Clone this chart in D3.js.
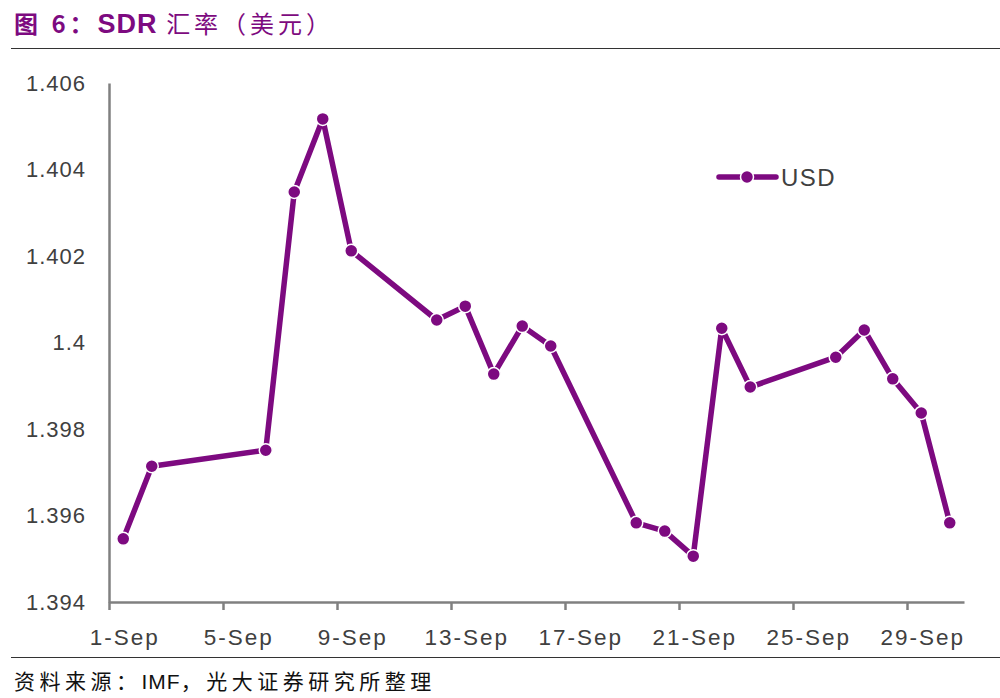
<!DOCTYPE html>
<meta charset="utf-8">
<style>
body { margin: 0; background: #fff; }
text { font-family: "Liberation Sans", Arial, sans-serif; }
.cjk { font-family: "Noto Sans CJK SC", sans-serif; }
</style>
<body>
<script src="https://cdnjs.cloudflare.com/ajax/libs/d3/7.8.5/d3.min.js"></script>
<script>
// trading days in September and the SDR rate (USD per SDR)
var days = [1, 2, 6, 7, 8, 9, 12, 13, 14, 15, 16, 19, 20, 21, 22, 23, 26, 27, 28, 29, 30];
var usd = [1.39546, 1.39714, 1.39751, 1.40348, 1.40517, 1.40212, 1.40052, 1.40084, 1.39927,
           1.40038, 1.39992, 1.39583, 1.39564, 1.39506, 1.40033, 1.39897, 1.39966, 1.40029,
           1.39916, 1.39837, 1.39583];
var tickDays = [1, 5, 9, 13, 17, 21, 25, 29];
var yTicks = [1.394, 1.396, 1.398, 1.4, 1.402, 1.404, 1.406];

var width = 1000, height = 698;
var purple = "#7d0a80";

var svg = d3.select("body").append("svg")
  .attr("width", width)
  .attr("height", height);

// title + rules
var title = svg.append("text").attr("class", "cjk")
  .attr("x", 14).attr("y", 33)
  .attr("font-size", 24)
  .attr("letter-spacing", 4)
  .attr("fill", purple);
title.append("tspan").attr("font-weight", "bold").text("图 6：");
title.append("tspan").attr("font-weight", "bold")
  .attr("font-family", "Liberation Sans, Arial, sans-serif").attr("font-size", 27)
  .attr("letter-spacing", 1).text("SDR ");
title.append("tspan").text("汇率（美元）");

svg.append("line").attr("x1", 11).attr("x2", 1000).attr("y1", 48.5).attr("y2", 48.5)
  .attr("stroke", "#333").attr("stroke-width", 1.2);
svg.append("line").attr("x1", 11).attr("x2", 1000).attr("y1", 657.5).attr("y2", 657.5)
  .attr("stroke", "#333").attr("stroke-width", 1.2);

var foot = svg.append("text").attr("class", "cjk")
  .attr("x", 14).attr("y", 689)
  .attr("font-size", 21).attr("letter-spacing", 4.5).attr("fill", "#111");
foot.append("tspan").text("资料来源：");
foot.append("tspan").attr("font-family", "Liberation Sans, Arial, sans-serif")
  .attr("letter-spacing", 1).text("IMF");
foot.append("tspan").text("，光大证券研究所整理");

// scales: each day takes a slot, point sits in the middle of it
var x = d3.scaleLinear().domain([0.5, 30.5]).range([109, 964]);
var y = d3.scaleLinear().domain([1.394, 1.406]).range([602, 83]);

var xAxis = d3.axisBottom(x)
  .tickValues(tickDays.map(function(d) { return d - 0.5; }))
  .tickSize(8)
  .tickSizeOuter(0)
  .tickFormat(function(d) { return (d + 0.5) + "-Sep"; });

var gx = svg.append("g").attr("transform", "translate(0,602)").call(xAxis);
gx.select(".domain").attr("stroke", "#808080").attr("stroke-width", 2.5);
gx.selectAll(".tick line").attr("stroke", "#808080").attr("stroke-width", 2.5);
gx.selectAll(".tick text")
  .attr("dx", (x(1) - x(0)) / 2 + 1)
  .attr("y", 27)
  .attr("font-size", 22.5)
  .attr("letter-spacing", 2)
  .attr("font-family", "Liberation Sans, Arial, sans-serif")
  .attr("fill", "#404040");

var yAxis = d3.axisLeft(y)
  .tickValues(yTicks)
  .tickSize(0)
  .tickPadding(23)
  .tickFormat(function(d) { return String(+d.toFixed(3)); });

var gy = svg.append("g").attr("transform", "translate(109,0)").call(yAxis);
gy.select(".domain").attr("stroke", "#808080").attr("stroke-width", 2.5);
gy.selectAll(".tick text")
  .attr("font-size", 22)
  .attr("letter-spacing", 1)
  .attr("font-family", "Liberation Sans, Arial, sans-serif")
  .attr("fill", "#404040");

// series
var pts = days.map(function(d, i) { return [d, usd[i]]; });
var line = d3.line()
  .x(function(d) { return x(d[0]); })
  .y(function(d) { return y(d[1]); });

svg.append("path")
  .datum(pts)
  .attr("d", line)
  .attr("fill", "none")
  .attr("stroke", purple)
  .attr("stroke-width", 5.5)
  .attr("stroke-linejoin", "round");

svg.append("g").selectAll("circle")
  .data(pts)
  .enter().append("circle")
  .attr("cx", function(d) { return x(d[0]); })
  .attr("cy", function(d) { return y(d[1]); })
  .attr("r", 6.5)
  .attr("fill", purple)
  .attr("stroke", "#fff")
  .attr("stroke-width", 1.5);

// legend
var lg = svg.append("g");
lg.append("line").attr("x1", 719).attr("x2", 776).attr("y1", 177).attr("y2", 177)
  .attr("stroke", purple).attr("stroke-width", 5.5).attr("stroke-linecap", "round");
lg.append("circle").attr("cx", 747).attr("cy", 177).attr("r", 6.5)
  .attr("fill", purple).attr("stroke", "#fff").attr("stroke-width", 1.5);
lg.append("text").attr("x", 781).attr("y", 186)
  .attr("font-size", 24).attr("letter-spacing", 1.5).attr("fill", "#404040")
  .text("USD");
</script>
</body>
